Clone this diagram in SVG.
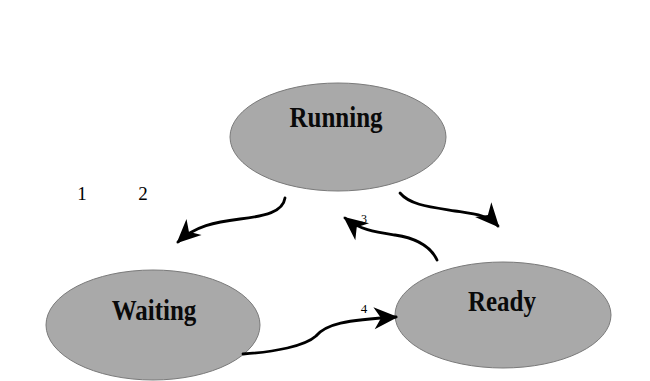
<svg xmlns="http://www.w3.org/2000/svg" width="650" height="381" viewBox="0 0 650 381">
<style>
.state ellipse{fill:#a9a9a9;stroke:#7a7a7a;stroke-width:1}
.state text{font-family:"Liberation Serif","Times New Roman",serif;font-weight:bold;font-size:25px;fill:#0a0a0a;text-anchor:middle}
.edge{fill:none;stroke:#000;stroke-width:2.8;stroke-linecap:round;marker-end:url(#head)}
.num{font-family:"Liberation Serif","Times New Roman",serif;fill:#000;text-anchor:middle}
</style>
<defs>
<marker id="head" viewBox="-24 -13 27 26" markerWidth="27" markerHeight="26" refX="0" refY="0" orient="auto" markerUnits="userSpaceOnUse">
<path d="M2,0 L-22,-11 L-15,0 L-22,11 Z" fill="#000"/>
</marker>
</defs>
<rect width="650" height="381" fill="#fff"/>
<g id="running" class="state">
<ellipse cx="338" cy="137" rx="108" ry="54"/>
<text transform="translate(336,127) scale(1,1.15)">Running</text>
</g>
<g id="waiting" class="state">
<ellipse cx="153" cy="325" rx="107" ry="55"/>
<text transform="translate(154,320) scale(1,1.15)">Waiting</text>
</g>
<g id="ready" class="state">
<ellipse cx="503" cy="315" rx="108" ry="53"/>
<text transform="translate(502,311) scale(1,1.15)">Ready</text>
</g>
<g id="connectors">
<path class="edge" d="M285,198 C283,212 265,216 240,219 C215,222 195,226 178,242"/>
<path class="edge" d="M400,193 C410,205 430,207 455,211 C475,214 488,215 498,226"/>
<path class="edge" d="M437,260 C430,245 415,238 395,235 C375,232 360,230 345,218"/>
<path class="edge" d="M243,354 C275,352 305,346 316,336 C326,324 345,320 396,317"/>
</g>
<g id="labels">
<text class="num" x="82" y="200" font-size="19">1</text>
<text class="num" x="143" y="200" font-size="19">2</text>
<text class="num" x="364" y="223" font-size="12">3</text>
<text class="num" x="364" y="313" font-size="13">4</text>
</g>
</svg>
